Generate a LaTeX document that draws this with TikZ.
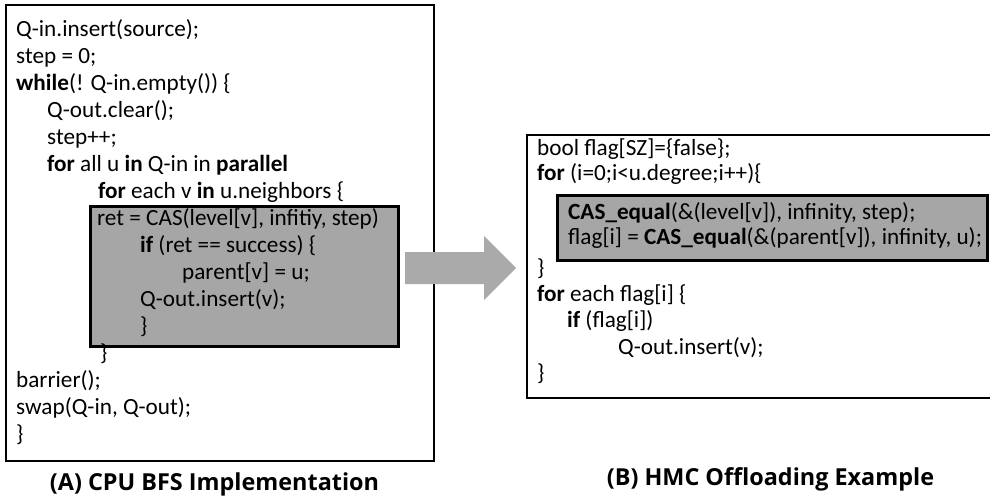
\documentclass[tikz,border=0pt]{standalone}
\usepackage{fontspec}
\setmainfont{Carlito}
\newfontfamily\capfont{Open Sans}
\begin{document}
\begin{tikzpicture}[x=1pt,y=-1pt,
  codeA/.style={anchor=west,inner sep=0pt,font=\fontsize{23.2}{27}\selectfont,text height=0.75em,text depth=0.25em},
  codeB/.style={anchor=west,inner sep=0pt,font=\fontsize{23.2}{27}\selectfont,text height=0.75em,text depth=0.25em},
  outerbox/.style={draw=black,line width=2pt,fill=white},
  greybox/.style={draw=black,line width=3pt,fill=boxgrey},
  captext/.style={inner sep=0pt,font=\capfont\bfseries\fontsize{23.4}{27}\selectfont}]
\definecolor{boxgrey}{RGB}{166,166,166}
\definecolor{arrowgrey}{RGB}{170,170,170}
\useasboundingbox (0,0) rectangle (990,497);
% boxes
\path[outerbox] (6,5) rectangle (434,461);
\path[greybox] (90,207) rectangle (398,346);
\path[outerbox,line width=2.5pt] (527,135) rectangle (994,398);
\path[greybox] (557,196) rectangle (987,260);
\coordinate (boxAeast) at (434,268);
\coordinate (boxBwest) at (527,268);
% arrow
\fill[arrowgrey] (405,252) -- (484,252) -- (484,236) -- (516,268) -- (484,300) -- (484,284) -- (405,284) -- cycle;
% code A
\def\pA{27.0}
\def\yA{34}
\node[codeA] (a1) at (16,{\yA+0*\pA}) {Q-in.insert(source);};
\node[codeA] (a2) at (16,{\yA+1*\pA}) {step = 0;};
\node[codeA] (a3) at (16,{\yA+2*\pA}) {\textbf{while}(! Q-in.empty()) \{};
\node[codeA] (a4) at (47,{\yA+3*\pA}) {Q-out.clear();};
\node[codeA] (a5) at (47,{\yA+4*\pA}) {step++;};
\node[codeA] (a6) at (47,{\yA+5*\pA}) {\textbf{for} all u \textbf{in} Q-in in \textbf{parallel}};
\node[codeA] (a7) at (98,{\yA+6*\pA}) {\textbf{for} each v \textbf{in} u.neighbors \{};
\node[codeA] (a8) at (97,{\yA+7*\pA}) {ret = CAS(level[v], infitiy, step)};
\node[codeA] (a9) at (140,{\yA+8*\pA}) {\textbf{if} (ret == success) \{};
\node[codeA] (a10) at (182,{\yA+9*\pA}) {parent[v] = u;};
\node[codeA] (a11) at (140,{\yA+10*\pA}) {Q-out.insert(v);};
\node[codeA] (a12) at (140,{\yA+11*\pA}) {\}};
\node[codeA] (a13) at (100,{\yA+12*\pA}) {\}};
\node[codeA] (a14) at (16,{\yA+13*\pA}) {barrier();};
\node[codeA] (a15) at (16,{\yA+14*\pA}) {swap(Q-in, Q-out);};
\node[codeA] (a16) at (16,{\yA+15*\pA}) {\}};
% code B
\node[codeB] (b1) at (537,153.5) {bool flag[SZ]=\{false\};};
\node[codeB] (b2) at (537,178.5) {\textbf{for} (i=0;i<u.degree;i++)\{};
\node[codeB] (b3) at (568,216.5) {\textbf{CAS\_equal}(\&(level[v]), infinity, step);};
\node[codeB] (b4) at (568,242) {flag[i] = \textbf{CAS\_equal}(\&(parent[v]), infinity, u);};
\node[codeB] (b5) at (537,272.5) {\}};
\node[codeB] (b6) at (537,298.5) {\textbf{for} each flag[i] \{};
\node[codeB] (b7) at (567,324.5) {\textbf{if} (flag[i])};
\node[codeB] (b8) at (618,351.5) {Q-out.insert(v);};
\node[codeB] (b9) at (537,377.5) {\}};
% captions
\node[captext] (capA) at (214.5,484) {(A) CPU BFS Implementation};
\node[captext] (capB) at (770.5,479) {(B) HMC Offloading Example};
\end{tikzpicture}
\end{document}
